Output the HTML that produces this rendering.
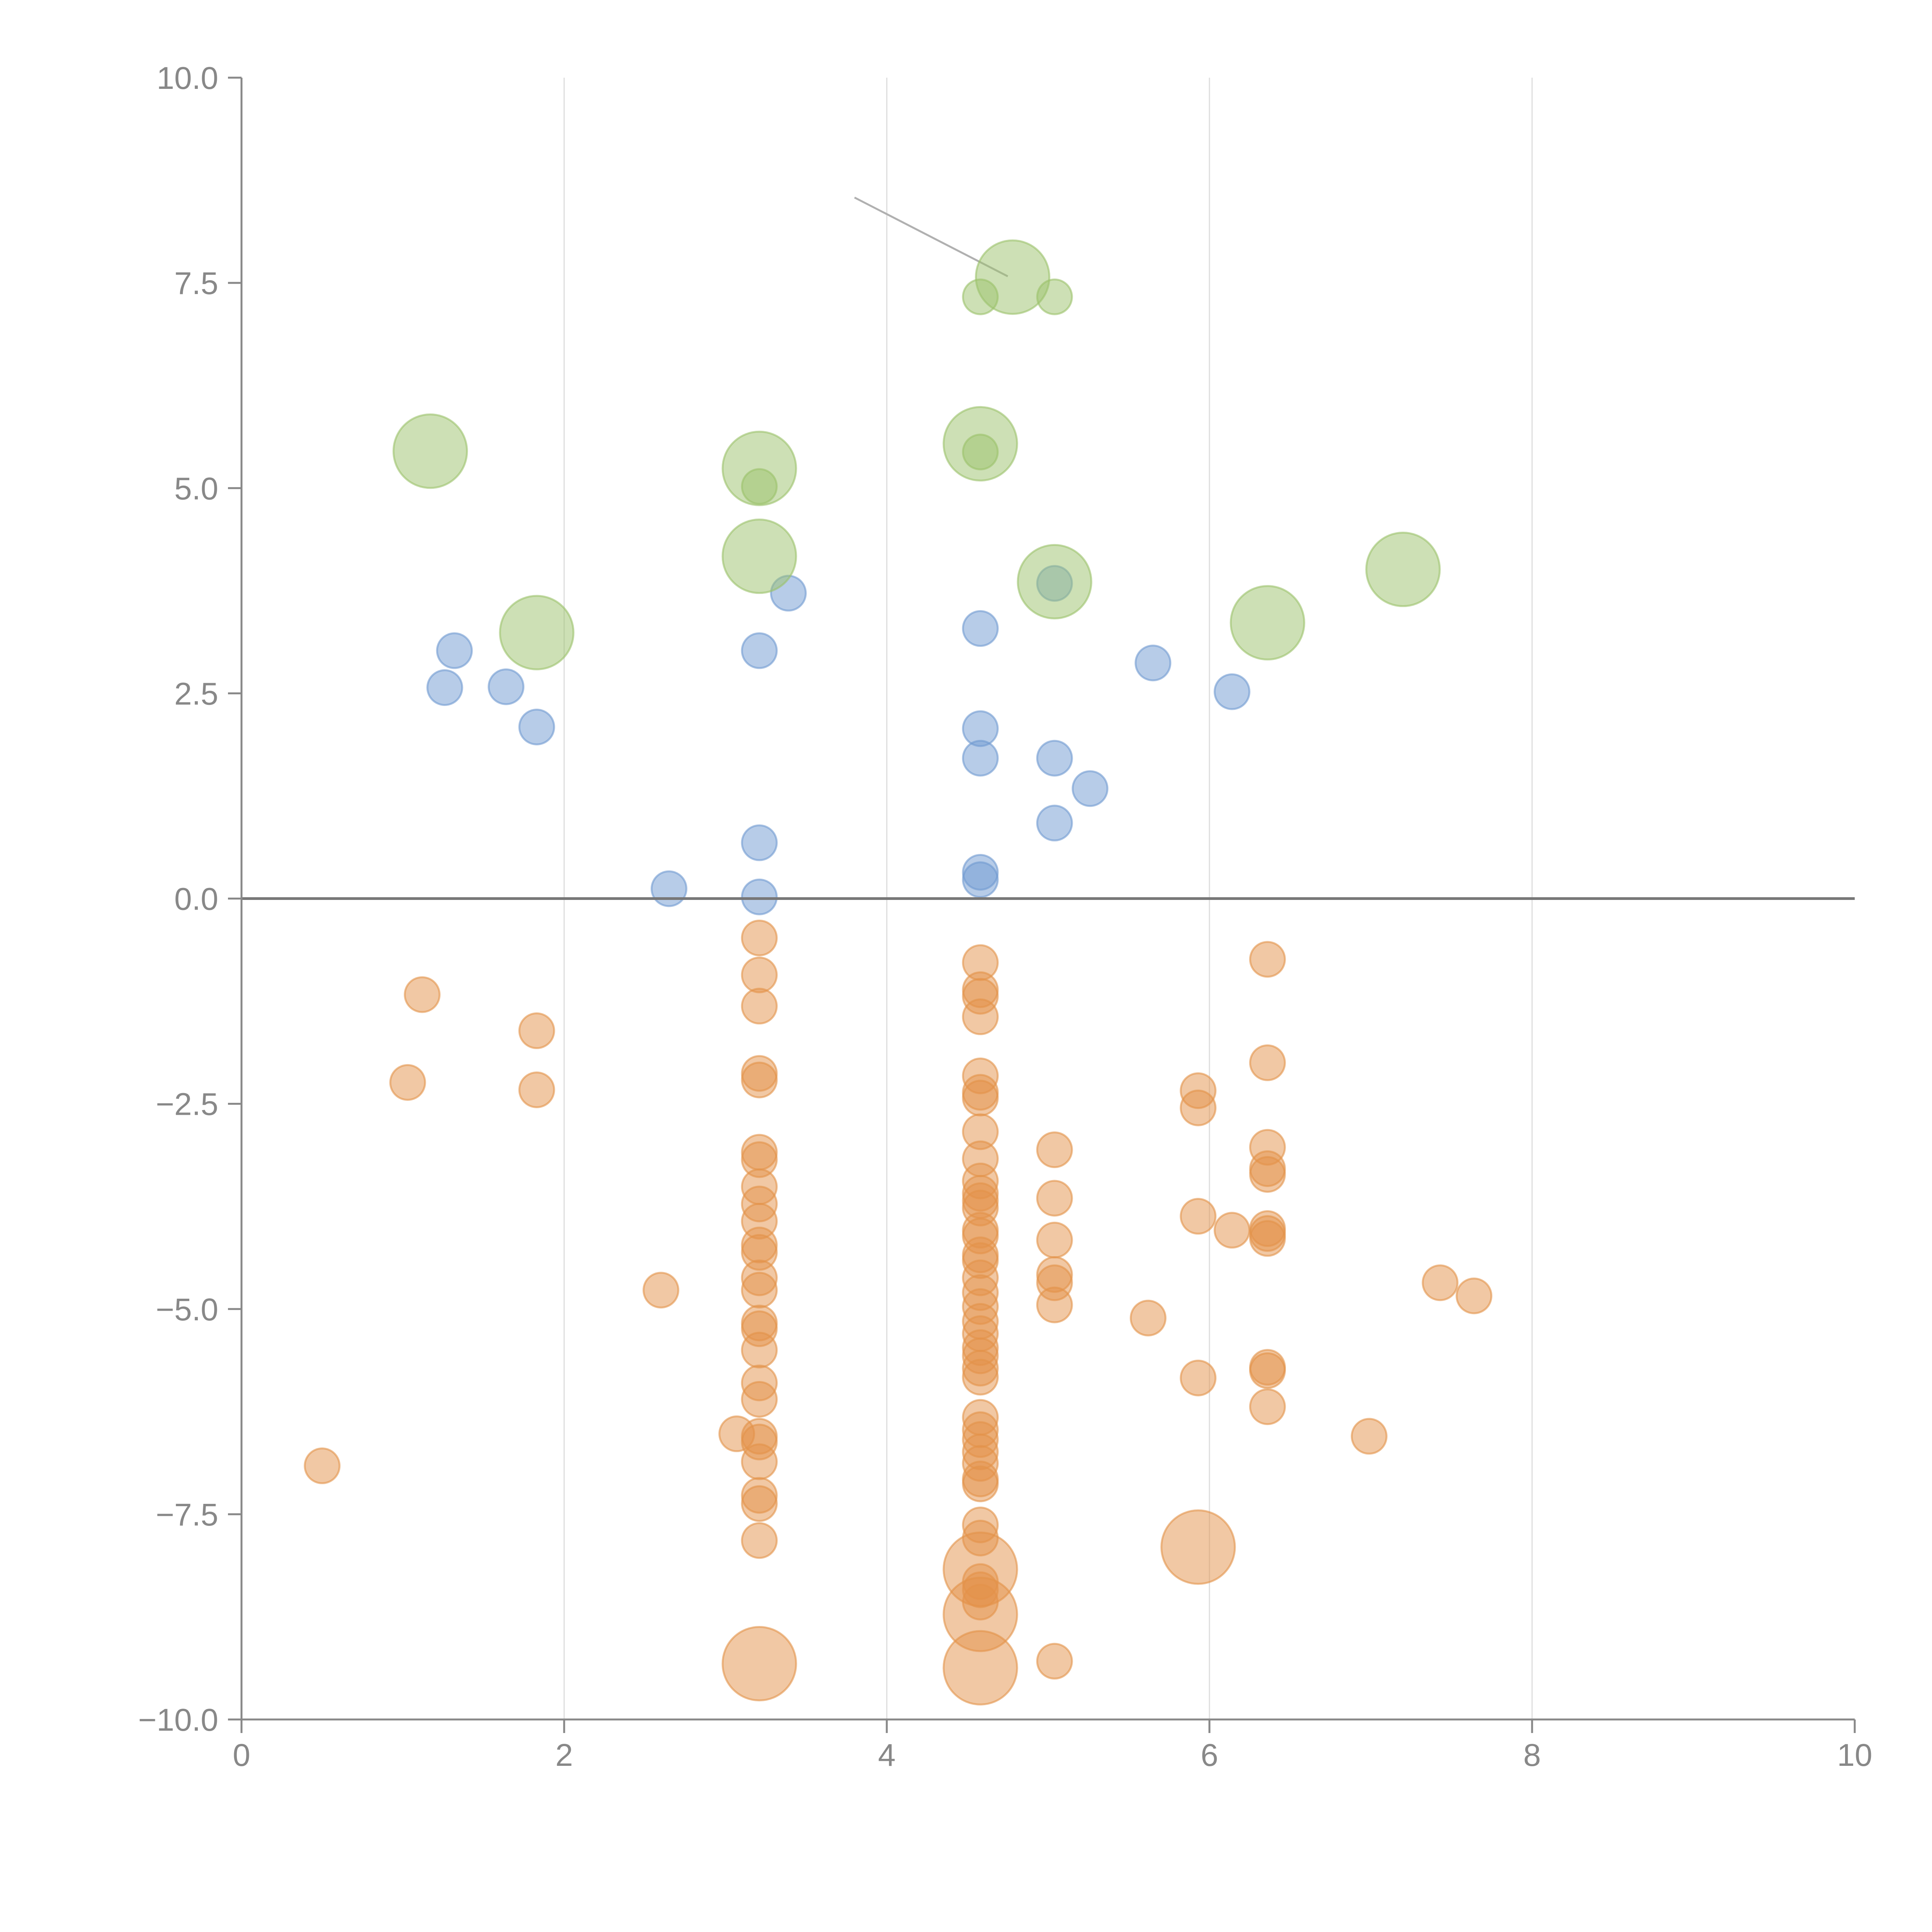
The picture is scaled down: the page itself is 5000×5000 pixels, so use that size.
<!DOCTYPE html>
<html><head><meta charset="utf-8"><style>
html,body{margin:0;padding:0;background:#fff;}
svg{display:block;font-family:"Liberation Sans",sans-serif;}
</style></head>
<body>
<svg id="chart" width="5000" height="5000" viewBox="0 0 5000 5000" xmlns="http://www.w3.org/2000/svg"></svg>
<script>
const xTicks = [0, 2, 4, 6, 8, 10];
const xTickLabels = ["0", "2", "4", "6", "8", "10"];
const yTicks = [-10, -7.5, -5, -2.5, 0, 2.5, 5, 7.5, 10];
const yTickLabels = ["\u221210.0", "\u22127.5", "\u22125.0", "\u22122.5", "0.0", "2.5", "5.0", "7.5", "10.0"];

const greenX = [4.78, 4.58, 5.04, 1.17, 3.21, 3.21, 4.58, 4.58, 3.21, 5.04, 7.20, 6.36, 1.83];
const greenY = [7.57, 7.33, 7.33, 5.45, 5.24, 5.02, 5.54, 5.44, 4.17, 3.86, 4.01, 3.36, 3.24];
const greenS = [3, 1, 1, 3, 3, 1, 3, 1, 3, 3, 3, 3, 3];

const blueX = [1.32, 1.26, 1.64, 1.83, 3.21, 3.39, 2.65, 3.21, 3.21, 4.58, 4.58, 4.58, 4.58, 4.58, 5.04, 5.04, 5.04, 5.26, 5.65, 6.14];
const blueY = [3.02, 2.57, 2.58, 2.09, 3.02, 3.72, 0.12, 0.68, 0.02, 3.29, 2.07, 1.71, 0.32, 0.23, 3.84, 1.71, 0.92, 1.34, 2.87, 2.52];
const blueS = [1,1,1,1,1,1,1,1,1,1,1,1,1,1,1,1,1,1,1,1];

const orangeX = [1.12, 1.03, 1.83, 1.83, 0.50, 2.60, 3.07,
  3.21,3.21,3.21,3.21,3.21,3.21,3.21,3.21,3.21,3.21,3.21,3.21,3.21,3.21,3.21,3.21,3.21,3.21,3.21,3.21,3.21,3.21,3.21,3.21,3.21,3.21,
  4.58,4.58,4.58,4.58,4.58,4.58,4.58,4.58,4.58,4.58,4.58,4.58,4.58,4.58,4.58,4.58,4.58,4.58,4.58,4.58,4.58,4.58,4.58,4.58,4.58,4.58,4.58,4.58,4.58,4.58,4.58,4.58,4.58,4.58,4.58,4.58,4.58,4.58,4.58,4.58,4.58,
  5.04,5.04,5.04,5.04,5.04,5.04,5.04, 5.62,
  5.93,5.93,5.93,5.93,5.93, 6.14,
  6.36,6.36,6.36,6.36,6.36,6.36,6.36,6.36,6.36,6.36,6.36,
  6.99, 7.43, 7.64];
const orangeY = [-1.17, -2.24, -1.61, -2.33, -6.91, -4.77, -6.52,
  -0.48,-0.93,-1.31,-2.13,-2.21,-3.09,-3.18,-3.51,-3.72,-3.93,-4.22,-4.31,-4.62,-4.77,-5.17,-5.24,-5.50,-5.90,-6.10,-6.55,-6.62,-6.86,-7.27,-7.37,-7.82,-9.32,
  -0.78,-1.11,-1.19,-1.44,-2.16,-2.36,-2.43,-2.84,-3.17,-3.44,-3.59,-3.68,-3.77,-4.04,-4.11,-4.34,-4.41,-4.62,-4.80,-4.97,-5.15,-5.30,-5.47,-5.57,-5.72,-5.83,-6.32,-6.47,-6.59,-6.74,-6.88,-7.07,-7.13,-7.63,-7.79,-8.32,-8.42,-8.57,-8.17,-8.72,-9.37,
  -3.06,-3.65,-4.16,-4.58,-4.68,-4.95,-9.29, -5.11,
  -2.34,-2.55,-3.87,-5.84,-7.90, -4.04,
  -0.74,-2.00,-3.03,-3.29,-3.36,-4.02,-4.08,-4.14,-5.71,-5.75,-6.19,
  -6.55, -4.68, -4.84];
const orangeS = [1,1,1,1,1,1,1,
  1,1,1,1,1,1,1,1,1,1,1,1,1,1,1,1,1,1,1,1,1,1,1,1,1,3,
  1,1,1,1,1,1,1,1,1,1,1,1,1,1,1,1,1,1,1,1,1,1,1,1,1,1,1,1,1,1,1,1,1,1,1,1,1,1,3,3,3,
  1,1,1,1,1,1,1, 1,
  1,1,1,1,3, 1,
  1,1,1,1,1,1,1,1,1,1,1,
  1,1,1];

const annotX = [3.80, 4.75];
const annotY = [8.54, 7.58];

const NS = "http://www.w3.org/2000/svg";
const svg = document.getElementById("chart");
const X0 = 625, X1 = 4800, Y0 = 4450, Y1 = 201;
function sx(v){ return X0 + (v - 0) / 10 * (X1 - X0); }
function sy(v){ return Y0 - (v + 10) / 20 * (Y0 - Y1); }
function rad(s){ return 45 * Math.sqrt(s) * (s > 1 ? 1.22 : 1); }
function mk(tag, attrs){
  const e = document.createElementNS(NS, tag);
  for (const k in attrs) e.setAttribute(k, attrs[k]);
  svg.appendChild(e);
  return e;
}

for (let i = 1; i < xTicks.length - 1; i++) {
  const g = mk("line", {x1: sx(xTicks[i]), x2: sx(xTicks[i]), y1: Y1, y2: Y0, stroke: "#dddddd", "stroke-width": 3});
  
  
}

const an = mk("line", {x1: sx(annotX[0]), y1: sy(annotY[0]), x2: sx(annotX[1]), y2: sy(annotY[1]), stroke: "#b0b0b0", "stroke-width": 5});



function drawSeries(xs, ys, ss, color, name){
  for (let i = 0; i < xs.length; i++) {
    const c = mk("circle", {cx: sx(xs[i]), cy: sy(ys[i]), r: rad(ss[i]), fill: color, "fill-opacity": 0.5, stroke: color, "stroke-opacity": 0.6, "stroke-width": 5});
    
    
  }
}
drawSeries(orangeX, orangeY, orangeS, "#e3924a", "orange-bubble");
drawSeries(blueX, blueY, blueS, "#6f99d1", "blue-bubble");
drawSeries(greenX, greenY, greenS, "#9bc26b", "green-bubble");

const z = mk("line", {x1: X0, x2: X1, y1: sy(0), y2: sy(0), stroke: "#777777", "stroke-width": 7});



const ya = mk("line", {x1: X0, x2: X0, y1: Y1, y2: Y0, stroke: "#888888", "stroke-width": 5});


const xa = mk("line", {x1: X0, x2: X1, y1: Y0, y2: Y0, stroke: "#888888", "stroke-width": 5});



for (let i = 0; i < yTicks.length; i++) {
  const y = sy(yTicks[i]);
  const t = mk("line", {x1: X0 - 35, x2: X0, y1: y, y2: y, stroke: "#888888", "stroke-width": 5});
  
  
  const l = mk("text", {x: X0 - 60, y: y + 29, "text-anchor": "end", "font-size": 82, fill: "#888888"});
  l.textContent = yTickLabels[i];
  
  
}
for (let i = 0; i < xTicks.length; i++) {
  const x = sx(xTicks[i]);
  const t = mk("line", {x1: x, x2: x, y1: Y0, y2: Y0 + 35, stroke: "#888888", "stroke-width": 5});
  
  
  const l = mk("text", {x: x, y: Y0 + 120, "text-anchor": "middle", "font-size": 82, fill: "#888888"});
  l.textContent = xTickLabels[i];
  
  
}
</script>
</body></html>
